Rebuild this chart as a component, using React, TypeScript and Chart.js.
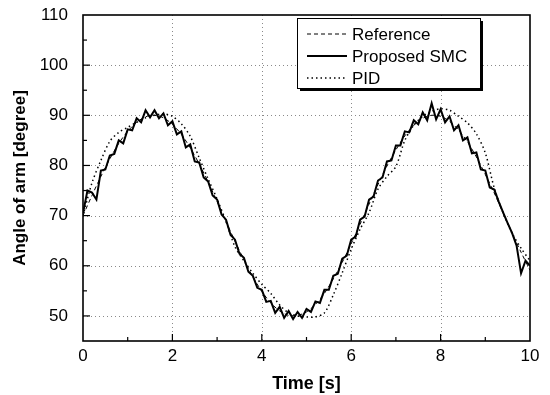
import React, { useEffect, useRef } from "react";
import { Chart, registerables } from "chart.js";

Chart.register(...registerables);

// Time grid (s)
const coarseTime = [
  0, 0.2, 0.4, 0.6, 0.8, 1.0, 1.2, 1.4, 1.6, 1.8, 2.0, 2.2, 2.4, 2.6, 2.8, 3.0, 3.2, 3.4, 3.6, 3.8,
  4.0, 4.2, 4.4, 4.6, 4.8, 5.0, 5.2, 5.4, 5.6, 5.8, 6.0, 6.2, 6.4, 6.6, 6.8, 7.0, 7.2, 7.4, 7.6, 7.8,
  8.0, 8.2, 8.4, 8.6, 8.8, 9.0, 9.2, 9.4, 9.6, 9.8, 10.0,
];

const fineTime = [
  0, 0.1, 0.2, 0.3, 0.4, 0.5, 0.6, 0.7, 0.8, 0.9, 1.0, 1.1, 1.2, 1.3, 1.4, 1.5, 1.6, 1.7, 1.8, 1.9,
  2.0, 2.1, 2.2, 2.3, 2.4, 2.5, 2.6, 2.7, 2.8, 2.9, 3.0, 3.1, 3.2, 3.3, 3.4, 3.5, 3.6, 3.7, 3.8, 3.9,
  4.0, 4.1, 4.2, 4.3, 4.4, 4.5, 4.6, 4.7, 4.8, 4.9, 5.0, 5.1, 5.2, 5.3, 5.4, 5.5, 5.6, 5.7, 5.8, 5.9,
  6.0, 6.1, 6.2, 6.3, 6.4, 6.5, 6.6, 6.7, 6.8, 6.9, 7.0, 7.1, 7.2, 7.3, 7.4, 7.5, 7.6, 7.7, 7.8, 7.9,
  8.0, 8.1, 8.2, 8.3, 8.4, 8.5, 8.6, 8.7, 8.8, 8.9, 9.0, 9.1, 9.2, 9.3, 9.4, 9.5, 9.6, 9.7, 9.8, 9.9,
  10.0,
];

// Reference trajectory (degree), sampled on coarseTime
const referenceAngle = [
  70.0, 74.0, 77.8, 81.3, 84.4, 86.8, 88.6, 89.7, 90.0, 89.5, 88.2, 86.2, 83.5, 80.3, 76.7, 72.8, 68.8,
  64.9, 61.2, 57.8, 54.9, 52.6, 51.0, 50.1, 50.1, 50.8, 52.3, 54.5, 57.4, 60.7, 64.4, 68.3, 72.3, 76.2,
  79.9, 83.1, 85.9, 88.0, 89.4, 90.0, 89.8, 88.8, 87.1, 84.7, 81.7, 78.2, 74.5, 70.5, 66.5, 62.7, 59.1,
];

// PID response (degree), sampled on coarseTime
const pidAngle = [
  70.0, 76.5, 81.0, 84.8, 86.6, 87.6, 88.6, 89.5, 90.0, 90.3, 89.8, 88.3, 85.8, 81.5, 77.3, 73.3, 68.8,
  63.8, 61.0, 58.5, 56.3, 54.5, 52.2, 50.6, 50.0, 49.8, 49.8, 50.6, 54.2, 58.6, 63.3, 67.3, 70.6, 75.3,
  77.8, 79.8, 85.0, 88.0, 89.8, 90.8, 91.3, 91.0, 89.8, 88.5, 86.3, 82.5, 75.5, 70.5, 66.5, 63.5, 61.0,
];

// Proposed SMC response (degree), sampled on fineTime
const smcAngle = [
  70.5, 75.0, 74.6, 73.2, 79.0, 79.2, 82.0, 82.3, 85.0, 84.4, 87.2, 87.0, 89.4, 88.6, 91.0, 89.6, 91.0,
  89.4, 90.4, 88.0, 88.8, 86.2, 86.8, 83.6, 84.2, 80.8, 80.6, 77.6, 76.8, 74.0, 73.2, 70.2, 69.2, 66.2,
  65.2, 62.4, 61.6, 58.8, 58.0, 55.6, 55.2, 52.8, 53.0, 50.6, 51.8, 49.6, 51.0, 49.4, 50.8, 49.6, 51.4,
  50.8, 52.9, 52.6, 55.2, 55.2, 58.0, 58.4, 61.4, 62.0, 65.2, 65.8, 69.2, 69.8, 73.2, 73.8, 77.0, 77.6,
  80.8, 81.0, 84.0, 84.0, 86.8, 86.6, 89.0, 88.2, 90.6, 89.0, 92.4, 89.2, 91.2, 88.6, 89.8, 87.0, 88.0,
  85.0, 85.6, 82.4, 82.6, 79.2, 79.0, 75.6, 75.2, 72.8, 70.6, 68.5, 66.5, 64.0, 58.5, 61.0, 60.0,
];

const xTickValues = [0, 2, 4, 6, 8, 10];
const yTickValues = [50, 60, 70, 80, 90, 100, 110];
const legendLabels = ["Reference", "Proposed SMC", "PID"];

const FONT = "'Liberation Sans', Arial, Helvetica, sans-serif";

const gridPlugin = {
  id: "dottedGrid",
  beforeDatasetsDraw(chart: any) {
    const { ctx, chartArea, scales } = chart;
    ctx.save();
    ctx.strokeStyle = "#8a8a8a";
    ctx.lineWidth = 1;
    ctx.setLineDash([1, 3]);
    xTickValues.forEach((v) => {
      if (v === 0 || v === 10) return;
      const px = Math.round(scales.x.getPixelForValue(v)) + 0.5;
      ctx.beginPath();
      ctx.moveTo(px, chartArea.top);
      ctx.lineTo(px, chartArea.bottom);
      ctx.stroke();
    });
    yTickValues.forEach((v) => {
      if (v === 110) return;
      const py = Math.round(scales.y.getPixelForValue(v)) + 0.5;
      ctx.beginPath();
      ctx.moveTo(chartArea.left, py);
      ctx.lineTo(chartArea.right, py);
      ctx.stroke();
    });
    ctx.restore();
  },
};

const framePlugin = {
  id: "frameAndLegend",
  afterDatasetsDraw(chart: any) {
    const { ctx, chartArea, scales } = chart;
    const xs = scales.x;
    const ys = scales.y;
    ctx.save();
    ctx.strokeStyle = "#000";
    ctx.lineWidth = 1.2;
    ctx.setLineDash([]);
    for (let v = 1; v < 10; v += 1) {
      const px = xs.getPixelForValue(v);
      const len = v % 2 === 0 ? 7 : 4;
      ctx.beginPath();
      ctx.moveTo(px, chartArea.bottom);
      ctx.lineTo(px, chartArea.bottom - len);
      ctx.stroke();
    }
    for (let v = 50; v < 110; v += 5) {
      const py = ys.getPixelForValue(v);
      const len = v % 10 === 0 ? 7 : 4;
      ctx.beginPath();
      ctx.moveTo(chartArea.left, py);
      ctx.lineTo(chartArea.left + len, py);
      ctx.stroke();
    }
    ctx.lineWidth = 1.6;
    ctx.strokeRect(chartArea.left, chartArea.top, chartArea.right - chartArea.left, chartArea.bottom - chartArea.top);

    const bx = 297, by = 18, bw = 183, bh = 70;
    ctx.fillStyle = "#000";
    ctx.fillRect(bx + 3, by + 3, bw, bh);
    ctx.fillStyle = "#fff";
    ctx.fillRect(bx, by, bw, bh);
    ctx.lineWidth = 1;
    ctx.strokeRect(bx + 0.5, by + 0.5, bw, bh);

    const rows = [34, 56, 78];
    const dashes = [[4, 3], [], [1.5, 3]];
    const widths = [1, 1.8, 1.5];
    ctx.font = `17px ${FONT}`;
    ctx.textBaseline = "middle";
    ctx.textAlign = "left";
    rows.forEach((ry, i) => {
      ctx.beginPath();
      ctx.setLineDash(dashes[i]);
      ctx.lineWidth = widths[i];
      ctx.strokeStyle = "#000";
      ctx.moveTo(307, ry);
      ctx.lineTo(347, ry);
      ctx.stroke();
      ctx.setLineDash([]);
      ctx.fillStyle = "#000";
      ctx.fillText(legendLabels[i], 352, ry + 1);
    });
    ctx.restore();
  },
};

export default function App() {
  const ref = useRef<HTMLCanvasElement>(null);

  useEffect(() => {
    if (!ref.current) return;
    const toPts = (xs: number[], ys: number[]) => xs.map((x, i) => ({ x, y: ys[i] }));
    const chart = new Chart(ref.current, {
      type: "line",
      data: {
        datasets: [
          {
            label: legendLabels[0],
            data: toPts(coarseTime, referenceAngle),
            borderColor: "#000",
            borderWidth: 1,
            borderDash: [4, 3],
            pointRadius: 0,
            tension: 0.3,
          },
          {
            label: legendLabels[2],
            data: toPts(coarseTime, pidAngle),
            borderColor: "#000",
            borderWidth: 1.5,
            borderDash: [1.5, 3],
            pointRadius: 0,
            tension: 0.3,
          },
          {
            label: legendLabels[1],
            data: toPts(fineTime, smcAngle),
            borderColor: "#000",
            borderWidth: 2,
            pointRadius: 0,
            tension: 0,
          },
        ],
      },
      options: {
        animation: false,
        responsive: false,
        layout: { padding: { top: 15, right: 20, left: 0, bottom: 0 } },
        plugins: { legend: { display: false }, tooltip: { enabled: false } },
        scales: {
          x: {
            type: "linear",
            min: 0,
            max: 10,
            afterBuildTicks: (s: any) => {
              s.ticks = xTickValues.map((v) => ({ value: v }));
            },
            afterFit: (s: any) => {
              s.height = 54;
              s.paddingLeft = 0;
              s.paddingRight = 0;
            },
            grid: { display: false, drawTicks: false },
            border: { display: false },
            ticks: { color: "#000", font: { size: 17, family: FONT }, padding: 5, maxRotation: 0 },
            title: {
              display: true,
              text: "Time [s]",
              color: "#000",
              font: { size: 18, weight: "bold", family: FONT },
              padding: { top: 0, bottom: 0 },
            },
          },
          y: {
            type: "linear",
            min: 45,
            max: 110,
            afterBuildTicks: (s: any) => {
              s.ticks = yTickValues.map((v) => ({ value: v }));
            },
            afterFit: (s: any) => {
              s.width = 83;
              s.paddingTop = 0;
              s.paddingBottom = 0;
            },
            grid: { display: false, drawTicks: false },
            border: { display: false },
            ticks: { color: "#000", font: { size: 17, family: FONT }, padding: 15 },
            title: {
              display: true,
              text: "Angle of arm [degree]",
              color: "#000",
              font: { size: 17, weight: "bold", family: FONT },
              padding: { top: 10, bottom: 0 },
            },
          },
        },
      },
      plugins: [gridPlugin, framePlugin],
    } as any);
    return () => chart.destroy();
  }, []);

  return (
    <div style={{ position: "absolute", left: 0, top: 0, width: 550, height: 395, background: "#fff" }}>
      <canvas ref={ref} width={550} height={395} style={{ display: "block" }} />
    </div>
  );
}
